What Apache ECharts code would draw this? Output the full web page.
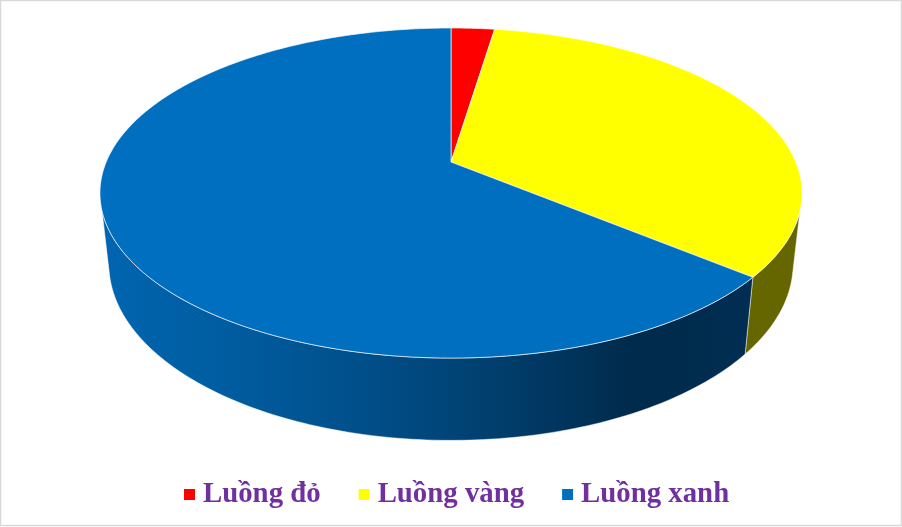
<!DOCTYPE html>
<html>
<head>
<meta charset="utf-8">
<style>html,body{margin:0;padding:0;background:#fff}#c{width:902px;height:527px}</style>
<script src="https://cdn.jsdelivr.net/npm/echarts@6/dist/echarts.min.js"></script>
</head>
<body>
<div id="c"></div>
<script>
const categories = ['Luồng đỏ', 'Luồng vàng', 'Luồng xanh'];
const values = [2.4, 33.6, 64];
const topColors = ['#ff0000', '#ffff00', '#006fc0'];
const sideStops = [
  null,
  [[0, '#666600'], [1, '#666600']],
  [[0, '#0065b0'], [0.2, '#005c9f'], [0.4, '#004f8a'], [0.6, '#003f6e'], [0.82, '#002a4b'], [1, '#002e52']]
];

// perspective projection of the disc: far edge is shrunk by k
const K = 0.188;
const topDisc = { cx: 451, cy: 162, a: 344.8, b: 159.2 };
const lowDisc = { cx: 451, cy: 231, a: 336, b: 170 };
const TOP_VIS = [107, 253];
const LOW_VIS = [104, 256];

function proj(d, deg) {
  const t = deg * Math.PI / 180, u = Math.sin(t), v = Math.cos(t), w = 1 + K * v;
  return [d.cx + d.a * u / w, d.cy - d.b * v / w];
}
function arc(d, from, to) {
  const n = Math.max(2, Math.ceil(Math.abs(to - from) / 1)), pts = [];
  for (let i = 0; i <= n; i++) pts.push(proj(d, from + (to - from) * i / n));
  return pts;
}
const total = values.reduce((s, x) => s + x, 0);
function span(i) {
  const before = values.slice(0, i).reduce((s, x) => s + x, 0);
  return [before / total * 360, (before + values[i]) / total * 360];
}
function render(i) {
  return function () {
    const [a, b] = span(i), children = [];
    const ta = Math.max(a, TOP_VIS[0]), tb = Math.min(b, TOP_VIS[1]);
    const la = Math.max(a, LOW_VIS[0]), lb = Math.min(b, LOW_VIS[1]);
    if (ta < tb && sideStops[i]) {
      children.push({
        type: 'polygon', silent: true,
        shape: { points: arc(topDisc, ta, tb).concat(arc(lowDisc, lb, la)) },
        style: {
          fill: { type: 'linear', x: 0, y: 0, x2: 1, y2: 0,
            colorStops: sideStops[i].map(s => ({ offset: s[0], color: s[1] })) },
          stroke: 'rgba(255,255,255,0.6)', lineWidth: 0.8, lineJoin: 'round'
        }
      });
    }
    children.push({
      type: 'polygon', silent: true,
      shape: { points: [[topDisc.cx, topDisc.cy]].concat(arc(topDisc, a, b)) },
      style: { fill: topColors[i], stroke: 'rgba(255,255,255,0.65)', lineWidth: 1, lineJoin: 'round' }
    });
    return { type: 'group', children };
  };
}

const chart = echarts.init(document.getElementById('c'), null, { renderer: 'canvas' });
chart.setOption({
  animation: false,
  backgroundColor: '#ffffff',
  graphic: [{
    type: 'rect', silent: true, z: -1,
    shape: { x: 0.5, y: 0.5, width: 901, height: 525 },
    style: { fill: 'none', stroke: '#d9d9d9', lineWidth: 1.5 }
  }],
  legend: {
    data: categories,
    left: 184, top: 480,
    padding: 0,
    icon: 'rect', itemWidth: 11, itemHeight: 11, itemGap: 38,
    textStyle: { fontFamily: 'Liberation Serif', fontWeight: 'bold', fontSize: 28.8, color: '#7030a0', padding: [0, 0, 0, 3] },
    selectedMode: false
  },
  series: categories.map((name, i) => ({
    type: 'custom', name, coordinateSystem: 'none',
    itemStyle: { color: topColors[i] },
    data: [[values[i]]],
    renderItem: render(i),
    silent: true
  }))
});
</script>
</body>
</html>
